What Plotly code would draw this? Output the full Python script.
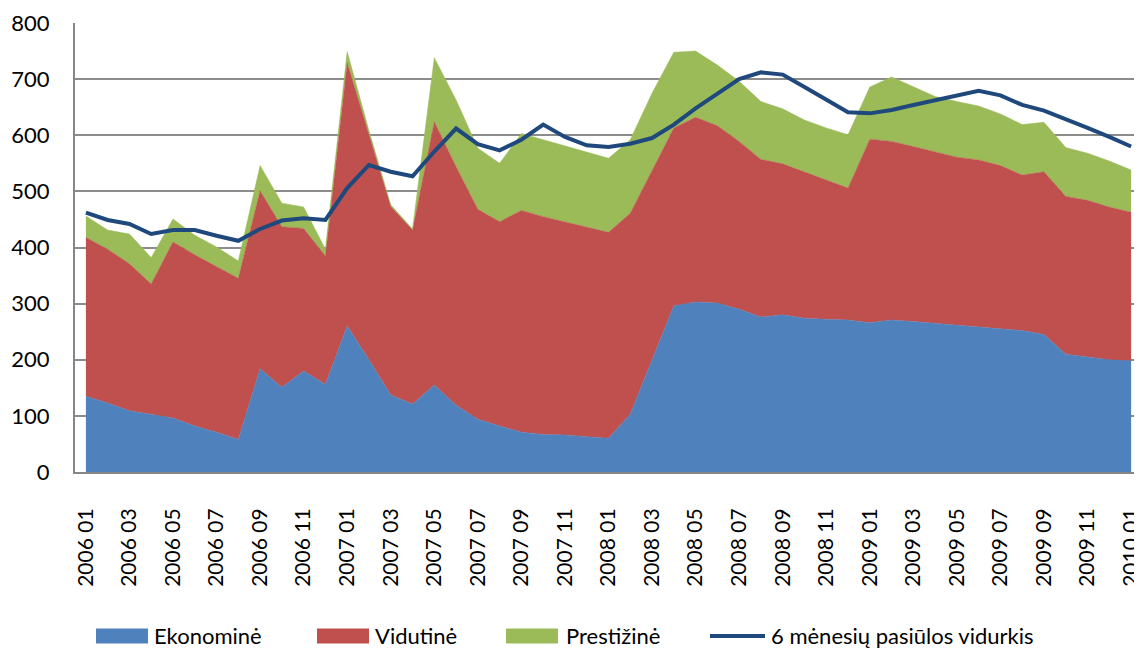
import plotly.graph_objects as go

months = [f"{y} {m:02d}" for y in range(2006, 2010) for m in range(1, 13)] + ["2010 01"]
tick_labels = months[::2]

ekonomine = [135, 123, 109, 103, 96, 82, 71, 58, 184, 151, 180, 156, 260, 200, 137, 121,
             155, 119, 94, 82, 71, 67, 66, 63, 60, 103, 200, 296, 303, 301, 290, 276,
             280, 274, 272, 271, 266, 271, 268, 265, 262, 259, 256, 252, 245, 210, 205, 200, 198]
vidutine = [283, 274, 262, 232, 314, 305, 295, 287, 317, 286, 254, 229, 469, 400, 336, 310,
            469, 425, 374, 364, 395, 388, 380, 374, 367, 358, 338, 317, 329, 316, 299, 281,
            269, 261, 248, 235, 327, 318, 312, 305, 299, 297, 290, 277, 290, 281, 279, 272, 265]
prestizine = [38, 34, 53, 47, 41, 35, 35, 31, 45, 42, 38, 12, 20, 8, 3, 2,
              114, 119, 109, 104, 137, 137, 136, 134, 132, 131, 137, 135, 118, 108, 107, 103,
              98, 92, 93, 95, 93, 115, 107, 99, 99, 96, 92, 90, 88, 87, 84, 82, 75]
vidurkis = [462, 449, 442, 424, 431, 431, 421, 412, 433, 448, 452, 449, 506, 547, 535, 527,
            571, 612, 584, 573, 592, 619, 597, 582, 579, 585, 595, 619, 648, 675, 700, 712,
            708, 686, 663, 641, 639, 645, 654, 662, 670, 679, 671, 654, 644, 629, 613, 597, 580]

names = ["Ekonominė", "Vidutinė", "Prestižinė", "6 mėnesių pasiūlos vidurkis"]
colors = ["#4F81BD", "#C0504D", "#9BBB59", "#1F497D"]

FONT = "Lato"
OFF = 8  # page body margin offset
fig = go.Figure()
for name, vals, col in zip(names[:3], [ekonomine, vidutine, prestizine], colors[:3]):
    fig.add_trace(go.Scatter(x=months, y=vals, name=name, stackgroup="one", mode="lines",
                             line=dict(width=0.5, color=col), fillcolor=col, showlegend=False))
fig.add_trace(go.Scatter(x=months, y=vidurkis, name=names[3], mode="lines",
                         line=dict(width=4, color=colors[3]), showlegend=False))

# plot area in page pixels
L, T, W, H = 75, 23, 1067, 449
def px(x):
    return (x - L) / W
def py(y):
    return (T + H - y) / H

LEG_Y = 636
items = [(96, 153, "rect"), (317, 374, "rect"), (506, 565, "rect"), (710, 770, "line")]
for (x0, tx, kind), name, col in zip(items, names, colors):
    if kind == "rect":
        fig.add_shape(type="rect", xref="paper", yref="paper", x0=px(x0), x1=px(x0 + 52),
                      y0=py(LEG_Y + 7.5), y1=py(LEG_Y - 7.5), fillcolor=col, line=dict(width=0))
    else:
        fig.add_shape(type="line", xref="paper", yref="paper", x0=px(x0), x1=px(x0 + 55),
                      y0=py(LEG_Y), y1=py(LEG_Y), line=dict(color=col, width=4))
    fig.add_annotation(text=name, xref="paper", yref="paper", x=px(tx), y=py(650 - OFF + 8),
                       xanchor="left", yanchor="bottom", showarrow=False, borderpad=0,
                       font=dict(family=FONT, size=22, color="#000000"))

fig.update_layout(
    width=1142 - OFF, height=650 - OFF,
    margin=dict(l=L - OFF, r=0, t=T - OFF, b=650 - T - H, autoexpand=False),
    plot_bgcolor="white", paper_bgcolor="white",
    font=dict(family=FONT, size=22, color="#000000"),
    showlegend=False,
)
fig.update_xaxes(type="category", range=[-0.5, len(months) - 0.5],
                 tickmode="array", tickvals=tick_labels, ticktext=tick_labels,
                 tickangle=-90, showgrid=False, showline=True, linecolor="#868686",
                 linewidth=2, ticks="", ticklabelstandoff=26, automargin=False,
                 tickfont=dict(family=FONT, size=21))
fig.update_yaxes(range=[0, 800], dtick=100, showgrid=True, gridcolor="#8C8C8C", gridwidth=1.5,
                 showline=True, linecolor="#868686", linewidth=2, ticks="",
                 ticklabelstandoff=19, zeroline=False, automargin=False,
                 tickfont=dict(family=FONT, size=22))

fig.write_html("out.html")
